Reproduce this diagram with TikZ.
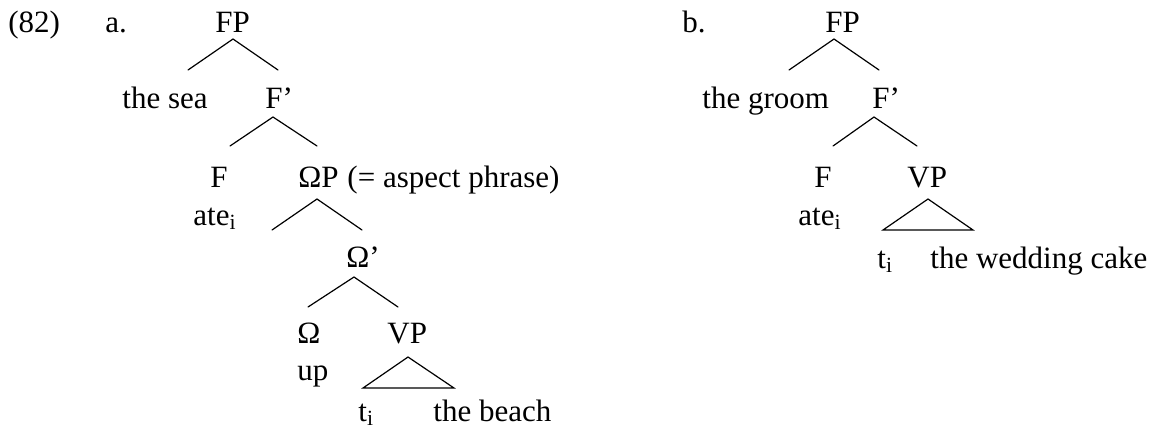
\documentclass[tikz,border=0pt]{standalone}
\usepackage{fontspec}
\setmainfont{Liberation Serif}
\usepackage{tikz}
\usetikzlibrary{positioning}

\tikzset{
  lbl/.style={anchor=base west,inner sep=0pt,font=\fontsize{15.5pt}{18pt}\selectfont},
  branch/.style={line width=0.6pt,line cap=round,line join=miter}
}

\begin{document}
\begin{tikzpicture}[x=0.5pt,y=-0.5pt]
  \useasboundingbox (0,0) rectangle (1159,430);
  % (82a)
  \node[lbl] (ex) at (8,32) {(82)};
  \node[lbl] (a) at (105,32) {a.};
  \node[lbl] (a-fp) at (215,32) {FP};
  \node[lbl] (a-spec) at (122,108) {the sea};
  \node[lbl] (a-fbar) at (265,108) {F’};
  \node[lbl] (a-f) at (210,187) {F};
  \node[lbl] (a-op) at (298,187) {ΩP};
  \node[lbl,right=4pt of a-op.base east,anchor=base west] (a-gloss) {(= aspect phrase)};
  \node[lbl] (a-verb) at (193,225) {ate\textsubscript{i}};
  \node[lbl] (a-obar) at (346,267) {Ω’};
  \node[lbl] (a-o) at (297,343) {Ω};
  \node[lbl] (a-vp) at (387,343) {VP};
  \node[lbl] (a-prt) at (297,380) {up};
  \node[lbl] (a-trace) at (358,421) {t\textsubscript{i}};
  \node[lbl] (a-obj) at (433,421) {the beach};
  % (82b)
  \node[lbl] (b) at (682,32) {b.};
  \node[lbl] (b-fp) at (825,32) {FP};
  \node[lbl] (b-spec) at (702,108) {the groom};
  \node[lbl] (b-fbar) at (872,108) {F’};
  \node[lbl] (b-f) at (814,187) {F};
  \node[lbl] (b-vp) at (907,187) {VP};
  \node[lbl] (b-verb) at (798,225) {ate\textsubscript{i}};
  \node[lbl] (b-trace) at (877,268) {t\textsubscript{i}};
  \node[lbl] (b-obj) at (930,268) {the wedding cake};
  % branch points
  \foreach \n/\tx/\ty/\lx/\rx/\by in {a-fp/233/39/188/278/70,a-fb/273/117/230/317/146,
      a-op/317/199/272/362/230,a-ob/354/277/308/398/307,a-vp/408/357/363/454/388,
      b-fp/834/39/789/879/70,b-fb/874/117/833/917/146,b-vp/928/199/883/973/230} {
    \coordinate (\n-t) at (\tx,\ty);
    \coordinate (\n-l) at (\lx,\by);
    \coordinate (\n-r) at (\rx,\by);
  }
  \foreach \n in {a-fp,a-fb,a-op,a-ob,b-fp,b-fb}
    \draw[branch] (\n-l) -- (\n-t) -- (\n-r);
  \foreach \n in {a-vp,b-vp}
    \draw[branch] (\n-l) -- (\n-t) -- (\n-r) -- cycle;
\end{tikzpicture}
\end{document}
